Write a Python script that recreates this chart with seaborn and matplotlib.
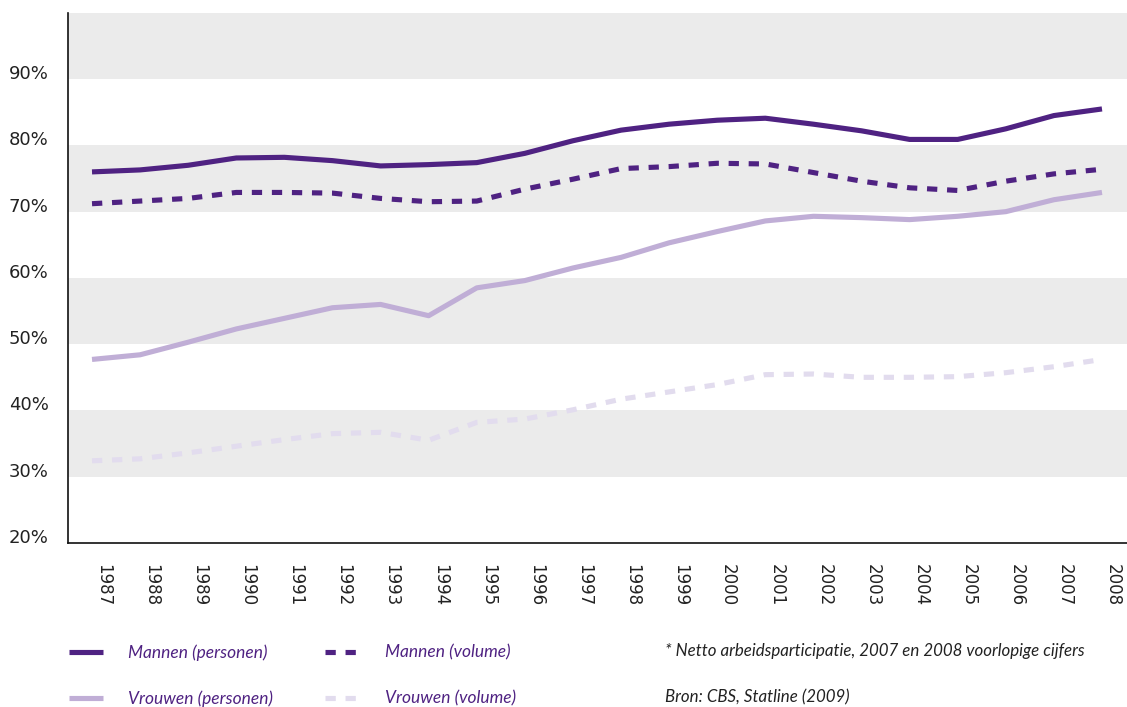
import numpy as np
import pandas as pd
import matplotlib
matplotlib.use("Agg")
import matplotlib.pyplot as plt
import matplotlib.transforms as mtransforms
from matplotlib.lines import Line2D
import seaborn as sns

# Data (in %)
years = list(range(1987, 2009))
mannen_personen = [76.0, 76.3, 77.0, 78.1, 78.2, 77.7, 76.9, 77.1, 77.4, 78.8, 80.7,
                   82.3, 83.2, 83.8, 84.1, 83.2, 82.2, 80.9, 80.9, 82.5, 84.5, 85.5]
mannen_volume = [71.2, 71.6, 72.0, 72.9, 72.9, 72.8, 72.0, 71.5, 71.6, 73.4, 74.9,
                 76.5, 76.8, 77.3, 77.2, 75.9, 74.6, 73.6, 73.2, 74.6, 75.7, 76.4]
vrouwen_personen = [47.7, 48.4, 50.3, 52.3, 53.9, 55.5, 56.0, 54.3, 58.5, 59.6, 61.5,
                    63.1, 65.3, 67.0, 68.6, 69.3, 69.1, 68.8, 69.3, 70.0, 71.8, 72.9]
vrouwen_volume = [32.4, 32.7, 33.6, 34.6, 35.6, 36.5, 36.7, 35.5, 38.2, 38.7, 40.1,
                  41.7, 42.8, 43.9, 45.4, 45.5, 45.0, 45.0, 45.1, 45.7, 46.6, 47.7]

series_names = ["Mannen (personen)", "Mannen (volume)",
                "Vrouwen (personen)", "Vrouwen (volume)"]
y_ticks = [20, 30, 40, 50, 60, 70, 80, 90]
bands = [(30, 40), (50, 60), (70, 80), (90, 100)]

note_text = "* Netto arbeidsparticipatie, 2007 en 2008 voorlopige cijfers"
source_text = "Bron: CBS, Statline (2009)"

dark = "#4f2282"
light = "#c0aed6"
lighter = "#e2dcee"
colors = {series_names[0]: dark, series_names[1]: dark,
          series_names[2]: light, series_names[3]: lighter}
dash_map = {series_names[0]: "", series_names[1]: (2, 1.9),
            series_names[2]: "", series_names[3]: (2, 1.9)}

df = pd.DataFrame({
    "jaar": years * 4,
    "waarde": mannen_personen + mannen_volume + vrouwen_personen + vrouwen_volume,
    "reeks": sum([[n] * len(years) for n in series_names], []),
})

sns.set_style("white")
plt.rcParams["font.family"] = ["DejaVu Sans"]

fig = plt.figure(figsize=(11.27, 7.07), dpi=100)
ax = fig.add_axes([0.0603, 0.232, 0.9397, 0.7498])

for lo, hi in bands:
    ax.axhspan(lo, hi, color="#ebebeb", lw=0, zorder=0)

sns.lineplot(data=df, x="jaar", y="waarde", hue="reeks", style="reeks",
             palette=colors, dashes=dash_map, linewidth=3.7, legend=False,
             ax=ax, zorder=3)
for ln in ax.get_lines():
    ln.set_solid_capstyle("butt")
    ln.set_dash_capstyle("butt")

ax.set_xlim(1986.5, 2008.52)
ax.set_ylim(20, 100)
ax.set_xlabel("")
ax.set_ylabel("")

for s in ["top", "right"]:
    ax.spines[s].set_visible(False)
for s in ["left", "bottom"]:
    ax.spines[s].set_color("#111111")
    ax.spines[s].set_linewidth(1.2)

ax.set_yticks(y_ticks)
ax.set_yticklabels([f"{v}%" for v in y_ticks], fontsize=13, color="#222222")
ax.tick_params(axis="y", length=0, pad=14)
for lbl in ax.get_yticklabels():
    lbl.set_verticalalignment("baseline")

ax.set_xticks(years)
ax.set_xticklabels([str(y) for y in years], rotation=-90, fontsize=12,
                   color="#222222", va="top", ha="center")
ax.tick_params(axis="x", length=0, pad=15)
offset = mtransforms.ScaledTranslation(11 / 100, 0, fig.dpi_scale_trans)
for lbl in ax.get_xticklabels():
    lbl.set_transform(lbl.get_transform() + offset)

ax.set_xticks([y + 0.5 for y in years[:-1]], minor=True)
ax.tick_params(axis="x", which="minor", direction="in", length=4,
               color="#dddddd", width=1)

# legend
handles = [Line2D([], [], color=colors[n], lw=3.7,
                  linestyle="-" if dash_map[n] == "" else (0, dash_map[n]),
                  solid_capstyle="butt", dash_capstyle="butt")
           for n in series_names]
order = [0, 2, 1, 3]
leg = fig.legend([handles[i] for i in order], [series_names[i] for i in order],
                 loc="upper left", bbox_to_anchor=(0.047, 0.111), ncol=2,
                 frameon=False, handlelength=2.0, handletextpad=1.45,
                 columnspacing=2.96, labelspacing=1.72,
                 prop={"family": "Lato", "style": "italic", "size": 12.5})
for t in leg.get_texts():
    t.set_color(dark)

fig.text(0.59, 0.079, note_text, fontsize=12.2, family="Lato", style="italic",
         color="#222222", va="center")
fig.text(0.59, 0.014, source_text, fontsize=12.2, family="Lato", style="italic",
         color="#222222", va="center")

fig.savefig("out.png", dpi=100)
